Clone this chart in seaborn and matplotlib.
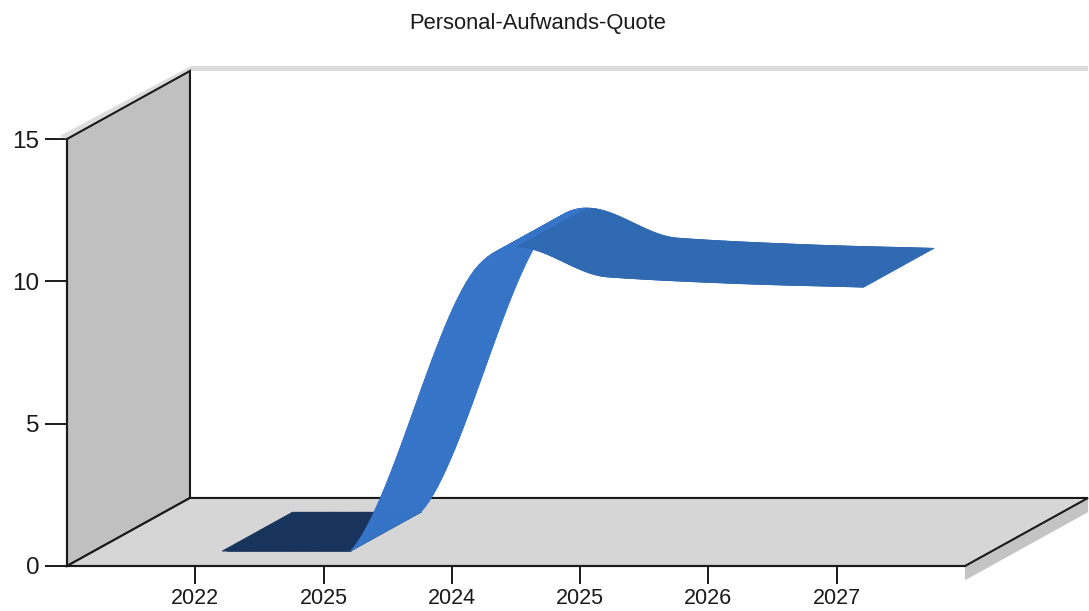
import numpy as np
import pandas as pd
import matplotlib.pyplot as plt
import seaborn as sns
from matplotlib.collections import PolyCollection

titel = 'Personal-Aufwands-Quote'
jahre = ['2022', '2025', '2024', '2025', '2026', '2027']
quote = [0.0, 0.0, 10.05, 9.63, 9.4, 9.27]
y_ticks = [0, 5, 10, 15]

# pseudo 3D: how far the back wall sits from the front plane, in data units
TIEFE_X = 123 / 128.3
TIEFE_Y = 68 / 28.45
BAND_VORN = 0.22
BAND_HINTEN = 0.79

FARBEN = {'flach': '#17335c', 'steigt': '#3674c8', 'faellt': '#2f69b2'}


def spline(werte, schritte=30):
    # cardinal spline through the values, the way the chart control smooths a line
    w = np.array(werte)
    tang = np.gradient(w)
    xs, ys = [], []
    for i in range(len(w) - 1):
        t = np.linspace(0, 1, schritte, endpoint=i == len(w) - 2)
        h00 = 2 * t**3 - 3 * t**2 + 1
        h10 = t**3 - 2 * t**2 + t
        h01 = -2 * t**3 + 3 * t**2
        h11 = t**3 - t**2
        xs.append(i + 1 + t)
        ys.append(h00 * w[i] + h10 * tang[i] + h01 * w[i + 1] + h11 * tang[i + 1])
    return np.concatenate(xs), np.maximum(np.concatenate(ys), 0)


def teil(dy):
    if abs(dy) < 1e-6:
        return 'flach'
    return 'steigt' if dy > 0 else 'faellt'


def run():
    sns.set_theme(style='white', rc={'font.family': ['Liberation Sans', 'DejaVu Sans']})
    fig = plt.figure(figsize=(10.89, 6.11), dpi=100)
    ax = fig.add_axes([67 / 1089, 45 / 611, 898 / 1089, 427 / 611])
    ax.set_xlim(0, 7)
    ax.set_ylim(0, 15)

    dx, dy = TIEFE_X, TIEFE_Y
    xmax, ymax = 7, 15

    # shadows
    ax.fill([0, dx, dx + 0.02, -0.06], [ymax, ymax + dy, ymax + dy + 0.2, ymax + 0.1],
            color='#dcdcdc', lw=0, clip_on=False, zorder=1)
    ax.fill([dx, xmax + dx, xmax + dx, dx], [ymax + dy, ymax + dy, ymax + dy + 0.17, ymax + dy + 0.17],
            color='#dcdcdc', lw=0, clip_on=False, zorder=1)
    ax.fill([xmax, xmax + dx, xmax + dx, xmax], [0, dy, dy - 0.5, -0.5],
            color='#c4c4c4', lw=0, clip_on=False, zorder=1)

    # walls and floor
    ax.fill([0, dx, dx, 0], [0, dy, ymax + dy, ymax], facecolor='#c0c0c0',
            edgecolor='#1a1a1a', lw=1.5, clip_on=False, zorder=2)
    ax.fill([0, xmax, xmax + dx, dx], [0, 0, dy, dy], facecolor='#d6d6d6',
            edgecolor='#1a1a1a', lw=1.5, clip_on=False, zorder=2)

    # ribbon
    cx, cy = spline(quote)
    vorn_x = cx + BAND_VORN * dx
    vorn_y = cy + BAND_VORN * dy
    hint_x = cx + BAND_HINTEN * dx
    hint_y = cy + BAND_HINTEN * dy
    polys, farben, teile = [], [], []
    for i in range(len(cx) - 1):
        polys.append([(vorn_x[i], vorn_y[i]), (vorn_x[i + 1], vorn_y[i + 1]),
                      (hint_x[i + 1], hint_y[i + 1]), (hint_x[i], hint_y[i])])
        teile.append(teil(cy[i + 1] - cy[i]))
        farben.append(FARBEN[teile[-1]])
    # back to front, falling parts lie over the rising ones
    reihe = np.argsort([{'flach': 0, 'steigt': 1, 'faellt': 2}[t] for t in teile], kind='stable')
    ax.add_collection(PolyCollection([polys[i] for i in reihe],
                                     facecolors=[farben[i] for i in reihe],
                                     edgecolors=[farben[i] for i in reihe],
                                     linewidths=0.6, clip_on=False, zorder=3))

    # edges stay under the ribbon faces so the dark floor part cannot show through
    kanten = pd.DataFrame({
        'x': np.concatenate([vorn_x[1:], hint_x[1:]]),
        'y': np.concatenate([vorn_y[1:], hint_y[1:]]),
        'teil': teile + teile,
        'kante': ['vorn'] * len(teile) + ['hinten'] * len(teile),
    })
    kanten['folge'] = kanten['kante'] + kanten['teil']
    sns.lineplot(data=kanten, x='x', y='y', hue='teil', units='folge', estimator=None,
                 sort=False, palette=FARBEN, legend=False, lw=0.5, ax=ax,
                 clip_on=False, zorder=2.5)

    ax.set_xlim(0, 7)
    ax.set_ylim(0, 15)
    ax.set_xlabel('')
    ax.set_ylabel('')
    ax.set_xticks(range(1, len(jahre) + 1), jahre)
    ax.set_yticks(y_ticks)
    ax.tick_params(axis='x', bottom=True, length=13, width=1.4, color='#1a1a1a',
                   labelsize=15.5, pad=3, labelcolor='#1a1a1a')
    ax.tick_params(axis='y', left=True, length=16, width=1.4, color='#1a1a1a',
                   labelsize=17.5, pad=4, labelcolor='#1a1a1a')
    for seite in ['top', 'right']:
        ax.spines[seite].set_visible(False)
    for seite in ['left', 'bottom']:
        ax.spines[seite].set_color('#1a1a1a')
        ax.spines[seite].set_linewidth(1.5)
        ax.spines[seite].set_zorder(4)
    ax.patch.set_alpha(0)

    fig.text(538 / 1089, 1 - 23 / 611, titel, ha='center', va='center',
             fontsize=15.8, color='#1a1a1a')
    fig.savefig('out.png', dpi=100)


if __name__ == '__main__':
    run()
